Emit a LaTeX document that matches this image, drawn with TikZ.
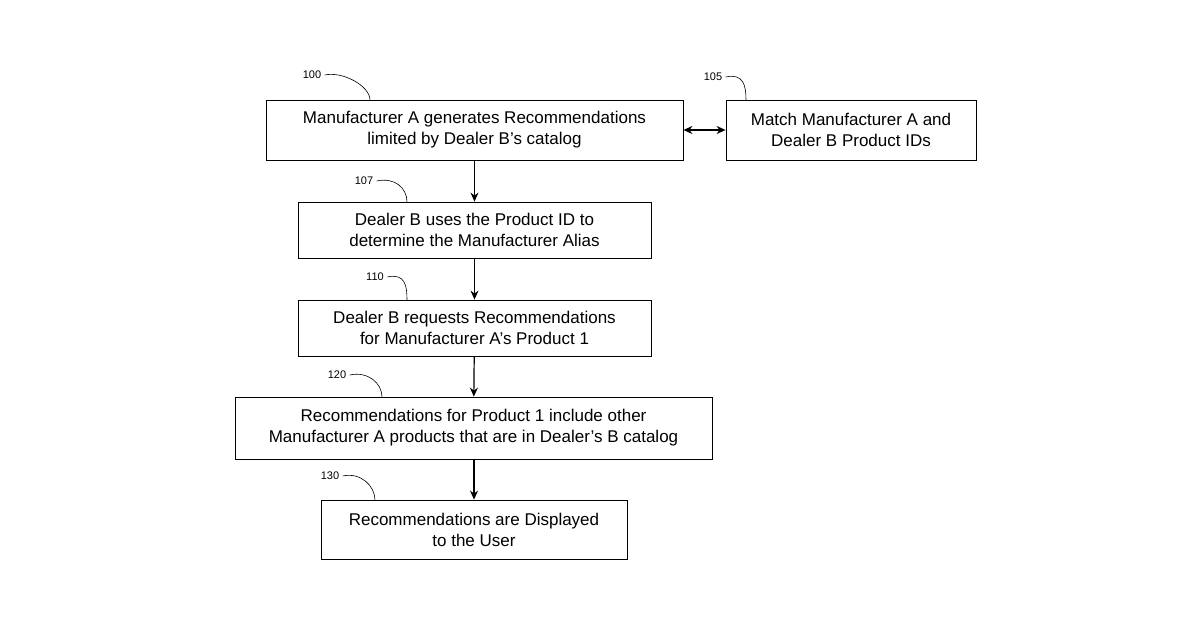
\documentclass[tikz,border=0pt]{standalone}
\usepackage{fontspec}
\setmainfont{Liberation Sans}
\usetikzlibrary{arrows.meta}
\begin{document}
\begin{tikzpicture}[x=1pt,y=-1pt,
 box/.style={draw,line width=0.8pt,minimum height=#1,align=center,font=\fontsize{17}{21}\selectfont,inner sep=0pt},
 lbl/.style={font=\fontsize{11}{13}\selectfont},
 lead/.style={line width=0.6pt},
 arr/.style={line width=1.2pt,-{Stealth[length=9pt,width=8pt]}}]
\useasboundingbox (0,0) rectangle (1200,630);
\node[box=60pt,minimum width=417pt] (b100) at (474.5,130) {Manufacturer A generates Recommendations\\limited by Dealer B’s catalog};
\node[box=60pt,minimum width=250pt] (b105) at (851,130) {Match Manufacturer A and\\Dealer B Product IDs};
\node[box=56pt,minimum width=353pt] (b107) at (474.5,230) {Dealer B uses the Product ID to\\determine the Manufacturer Alias};
\node[box=56pt,minimum width=353pt] (b110) at (474.5,328) {Dealer B requests Recommendations\\for Manufacturer A’s Product 1};
\node[box=62pt,minimum width=477pt] (b120) at (473.5,428) {Recommendations for Product 1 include other\\Manufacturer A products that are in Dealer’s B catalog};
\node[box=59pt,minimum width=306pt] (b130) at (474,529.5) {Recommendations are Displayed\\to the User};
\draw[arr] (b100) -- (b107);
\draw[arr] (b107) -- (b110);
\draw[arr] (b110) -- (b120);
\draw[arr] (b120.south -| b130) -- (b130);
\draw[line width=1.2pt,{Stealth[length=9pt,width=8pt]}-{Stealth[length=9pt,width=8pt]}] (b100.east) -- (b105.west);
\node[lbl] (l100) at (312,75) {100};
\node[lbl] (l105) at (713,77) {105};
\node[lbl] (l107) at (364,181) {107};
\node[lbl] (l110) at (375,277) {110};
\node[lbl] (l120) at (337,375) {120};
\node[lbl] (l130) at (330,476) {130};
\coordinate (e100) at (370,100);
\coordinate (e105) at (746,100);
\coordinate (e107) at (407,202);
\coordinate (e110) at (407,300);
\coordinate (e120) at (382,397);
\coordinate (e130) at (375,500);
\foreach \n in {100,105,107,110,120,130}
  \draw[lead] (l\n.east) .. controls +(18,-4) and +(0,-14) .. (e\n);
\end{tikzpicture}
\end{document}
